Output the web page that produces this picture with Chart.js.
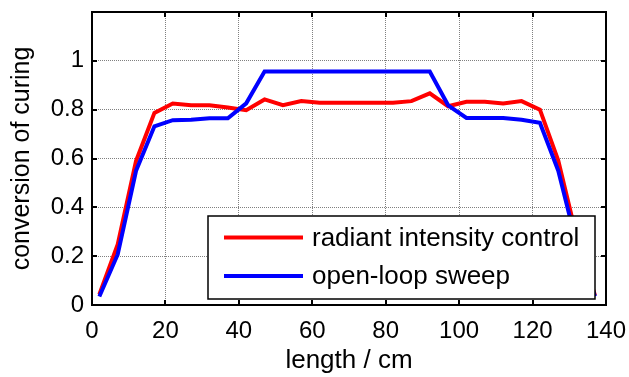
<!DOCTYPE html>
<html><head><meta charset="utf-8">
<script src="https://cdn.jsdelivr.net/npm/chart.js@4"></script>
<style>html,body{margin:0;padding:0;background:#fff}#wrap{width:629px;height:377px}</style>
</head><body><div id="wrap"><canvas id="c" width="629" height="377"></canvas></div>
<script>
const lengthCm = [2,7,12,17,22,27,32,37,42,47,52,57,62,67,72,77,82,87,92,97,102,107,112,117,122,127,132,137];
const radiantIntensityControl = [0.043,0.248,0.59,0.787,0.825,0.818,0.818,0.809,0.798,0.842,0.818,0.835,0.828,0.828,0.828,0.828,0.828,0.835,0.867,0.814,0.832,0.832,0.825,0.835,0.80,0.592,0.28,0.04];
const openLoopSweep = [0.035,0.207,0.55,0.732,0.757,0.759,0.765,0.765,0.826,0.956,0.956,0.956,0.956,0.956,0.956,0.956,0.956,0.956,0.956,0.818,0.766,0.766,0.766,0.759,0.746,0.55,0.25,0.035];
const seriesNames = ['radiant intensity control','open-loop sweep'];
const seriesColors = ['#ff0000','#0000ff'];
const xTickValues = [0,20,40,60,80,100,120,140];
const yTickValues = [0,0.2,0.4,0.6,0.8,1];
const xTitle = 'length / cm';
const yTitle = 'conversion of curing';

const FONT = '"Liberation Sans", Arial, sans-serif';

const boxPlugin = {
  id: 'matlabBox',
  afterDatasetsDraw(chart) {
    const {ctx, chartArea: a} = chart;
    const lx = a.left + 116, ly = a.top + 204, lw = 387, lh = 83;
    ctx.save();
    ctx.fillStyle = '#fff';
    ctx.fillRect(lx, ly, lw, lh);
    ctx.strokeStyle = '#000';
    ctx.lineWidth = 1.5;
    ctx.strokeRect(lx, ly, lw, lh);
    ctx.font = '26px ' + FONT;
    ctx.textBaseline = 'middle';
    ctx.fillStyle = '#000';
    const rows = [ly + 21.5, ly + 60];
    seriesNames.forEach((n, i) => {
      ctx.strokeStyle = seriesColors[i];
      ctx.lineWidth = 4;
      ctx.beginPath();
      ctx.moveTo(lx + 16, rows[i]);
      ctx.lineTo(lx + 95, rows[i]);
      ctx.stroke();
      ctx.fillText(n, lx + 104, rows[i] + 1);
    });
    ctx.restore();
  },
  afterDraw(chart) {
    const {ctx, chartArea: a, scales} = chart;
    ctx.save();
    ctx.strokeStyle = '#000';
    ctx.lineWidth = 2;
    const tl = 5;
    ctx.beginPath();
    xTickValues.forEach(v => {
      const x = Math.round(scales.x.getPixelForValue(v));
      ctx.moveTo(x, a.bottom); ctx.lineTo(x, a.bottom - tl);
      ctx.moveTo(x, a.top); ctx.lineTo(x, a.top + tl);
    });
    yTickValues.forEach(v => {
      const y = Math.round(scales.y.getPixelForValue(v));
      ctx.moveTo(a.left, y); ctx.lineTo(a.left + tl, y);
      ctx.moveTo(a.right, y); ctx.lineTo(a.right - tl, y);
    });
    ctx.stroke();
    ctx.strokeRect(a.left, a.top, a.right - a.left, a.bottom - a.top);
    ctx.restore();
  }
};

new Chart(document.getElementById('c'), {
  type: 'line',
  data: {
    datasets: [
      { label: seriesNames[0], data: lengthCm.map((x, i) => ({x, y: radiantIntensityControl[i]})),
        borderColor: seriesColors[0], borderWidth: 4, pointRadius: 0, tension: 0, fill: false, order: 1 },
      { label: seriesNames[1], data: lengthCm.map((x, i) => ({x, y: openLoopSweep[i]})),
        borderColor: seriesColors[1], borderWidth: 4, pointRadius: 0, tension: 0, fill: false, order: 0 }
    ]
  },
  options: {
    responsive: false,
    devicePixelRatio: 1,
    animation: false,
    layout: { padding: { top: 12, right: 23, left: 0, bottom: 0 } },
    plugins: { legend: { display: false }, tooltip: { enabled: false } },
    scales: {
      x: {
        type: 'linear', min: 0, max: 140,
        afterFit(s) { s.height = 72; s.paddingLeft = 0; s.paddingRight = 0; },
        afterBuildTicks(s) { s.ticks = xTickValues.map(v => ({value: v})); },
        ticks: { font: { family: FONT, size: 24 }, color: '#000', padding: 12, maxRotation: 0 },
        grid: { color: '#808080', drawTicks: false, lineWidth: 1 },
        border: { display: false, dash: [1, 1] },
        title: { display: true, text: xTitle, font: { family: FONT, size: 26 }, color: '#000', padding: { top: 0, bottom: 1 } }
      },
      y: {
        type: 'linear', min: 0, max: 1.2,
        afterFit(s) { s.width = 92; s.paddingTop = 0; s.paddingBottom = 0; },
        afterBuildTicks(s) { s.ticks = [0,0.2,0.4,0.6,0.8,1,1.2].map(v => ({value: v})); },
        ticks: { font: { family: FONT, size: 24 }, color: '#000', padding: 8,
          callback: v => (yTickValues.some(t => Math.abs(t - v) < 1e-6) ? String(Math.round(v * 10) / 10) : '') },
        grid: { color: '#808080', drawTicks: false, lineWidth: 1 },
        border: { display: false, dash: [1, 1] },
        title: { display: true, text: yTitle, font: { family: FONT, size: 25 }, color: '#000', padding: { top: 7, bottom: 0 } }
      }
    }
  },
  plugins: [boxPlugin]
});
</script>
</body></html>
